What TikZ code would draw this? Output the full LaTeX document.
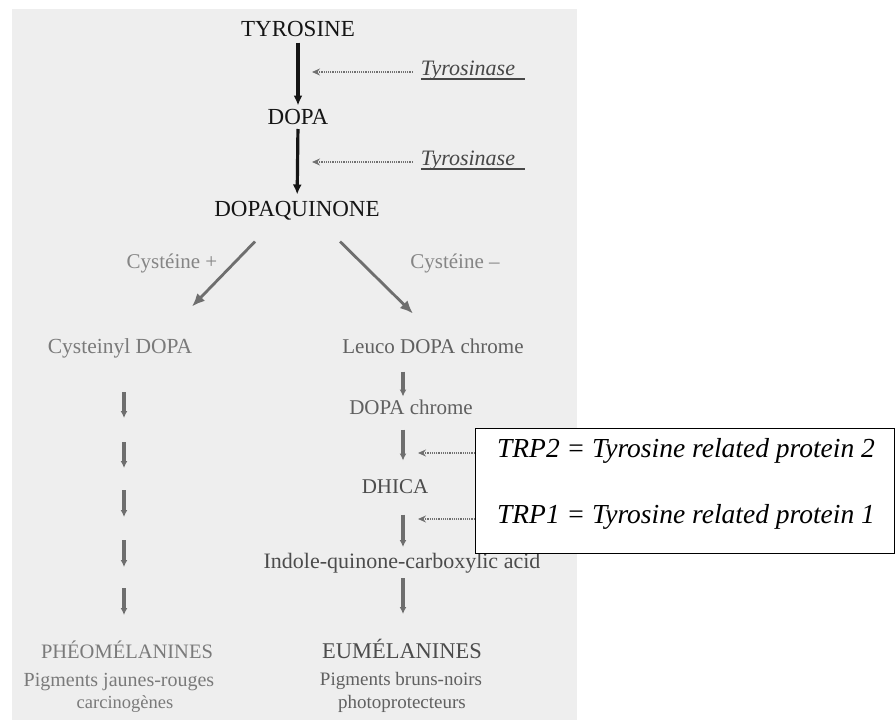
\documentclass[tikz,border=0pt]{standalone}
\usepackage{fontspec}
\setmainfont{Liberation Serif}
\usetikzlibrary{arrows.meta}
\definecolor{bgc}{HTML}{EEEEEE}
\definecolor{maintxt}{HTML}{151515}
\definecolor{enzc}{HTML}{474747}
\definecolor{cysc}{HTML}{858585}
\definecolor{lgrey}{HTML}{7A7A7A}
\definecolor{mgrey}{HTML}{606060}
\definecolor{dgrey}{HTML}{4C4C4C}
\definecolor{arrg}{HTML}{6E6E6E}
\definecolor{dotc}{HTML}{707070}
\newcommand{\fsz}[1]{\fontsize{#1}{#1}\selectfont}
\begin{document}
\begin{tikzpicture}[x=1pt,y=-1pt,
  lbl/.style={inner sep=0pt, text height=0.66em, text depth=0pt, anchor=center},
  big/.style={lbl, font=\fsz{23}, text=maintxt},
  enz/.style={lbl, font=\fsz{22}\itshape, text=enzc},
  cys/.style={lbl, font=\fsz{21}, text=cysc},
  trp/.style={lbl, font=\fsz{27.5}\itshape, text=black},
  barr/.style={line width=3.2pt, draw=maintxt, -{Latex[length=10pt,width=9pt]}},
  garr/.style={line width=2.8pt, draw=arrg, -{Latex[length=13pt,width=11pt]}},
  sarr/.style={line width=3.4pt, draw=arrg, -{Latex[length=7pt,width=7pt]}},
  darr/.style={line width=1.2pt, draw=dotc, dash pattern=on 1.2pt off 1pt, -{Stealth[length=8pt,width=7pt]}},
  ulc/.style={line width=2pt, draw=enzc}]
\useasboundingbox (0,0) rectangle (896,720);
\fill[bgc] (12,9) rectangle (577,720);

% main chain
\node[big] (tyr) at (298,33) {TYROSINE};
\node[big] (dopa) at (298,121) {DOPA};
\node[big] (dq) at (297,213) {DOPAQUINONE};
\draw[barr, shorten <=6pt, shorten >=12pt] (tyr.south) -- (dopa.north);
\draw[barr, shorten <=4.5pt, shorten >=15pt] (dopa.south) -- (dq.north);

% enzymes
\node[enz] (enz1) at (468,72) {Tyrosinase};
\node[enz] (enz2) at (468,162) {Tyrosinase};
\draw[ulc] ([yshift=-3.7pt]enz1.south west) -- ([yshift=-3.7pt,xshift=10pt]enz1.south east);
\draw[ulc] ([yshift=-3.7pt]enz2.south west) -- ([yshift=-3.7pt,xshift=10pt]enz2.south east);
\draw[darr, shorten <=8pt, shorten >=14pt] (enz1.west) -- (enz1.west -| tyr.center);
\draw[darr, shorten <=8pt, shorten >=14pt] (enz2.west) -- (enz2.west -| tyr.center);

% branches
\node[cys] (cysp) at (172,265) {Cystéine +};
\node[cys] (cysm) at (455,265) {Cystéine –};
\node[lbl, font=\fsz{21.5}, text=lgrey] (cdopa) at (120,350) {Cysteinyl DOPA};
\node[lbl, font=\fsz{21}, text=mgrey] (leuco) at (433,350) {Leuco DOPA chrome};
\draw[garr] ([xshift=-42pt,yshift=-25pt]dq.south) -- ([xshift=72pt,yshift=40pt]cdopa.north);
\draw[garr] ([xshift=43pt,yshift=-25pt]dq.south) -- ([xshift=-20pt,yshift=33pt]leuco.north);

% right column
\coordinate (rc) at (403,0);
\node[lbl, font=\fsz{21}, text=mgrey] (dchrome) at (411,411) {DOPA chrome};
\node[lbl, font=\fsz{21}, text=dgrey] (dhica) at (395,490) {DHICA};
\node[lbl, font=\fsz{22}, text=dgrey] (indole) at (402,565) {Indole-quinone-carboxylic acid};
\node[lbl, font=\fsz{22.5}, text=dgrey] (eu) at (402,655) {EUMÉLANINES};
\node[lbl, font=\fsz{19}, text=mgrey] (eu1) at (401,682) {Pigments bruns-noirs};
\node[lbl, font=\fsz{19}, text=mgrey] (eu2) at (402,705) {photoprotecteurs};
\draw[sarr, shorten <=18pt, shorten >=11pt] (leuco.south -| rc) -- (dchrome.north -| rc);
\draw[sarr, shorten <=15pt, shorten >=26pt] (dchrome.south -| rc) -- (dhica.north -| rc);
\draw[sarr, shorten <=21pt, shorten >=14.5pt] (dhica.south -| rc) -- (indole.north -| rc);
\draw[sarr, shorten <=9.5pt, shorten >=37.5pt] (indole.south -| rc) -- (eu.north -| rc);

% left column
\node[lbl, font=\fsz{20.5}, text=lgrey] (pheo) at (127,655) {PHÉOMÉLANINES};
\node[lbl, font=\fsz{20}, text=lgrey] (pheo1) at (119,683) {Pigments jaunes-rouges};
\node[lbl, font=\fsz{18.5}, text=lgrey] (pheo2) at (125,705) {carcinogènes};
\foreach \i/\a/\b in {1/392/418, 2/442/468, 3/490/517, 4/540/567, 5/588/615} {
  \coordinate (ls\i) at (124,\a);
  \coordinate (le\i) at (124,\b);
  \draw[sarr] (ls\i) -- (le\i);
}

% TRP box
\node[draw=black, line width=1.6pt, fill=white, minimum width=419pt, minimum height=125pt, inner sep=0pt] (box) at (685,491) {};
\node[trp] (trp2) at (686,454) {TRP2 = Tyrosine related protein 2};
\node[trp] (trp1) at (686,520) {TRP1 = Tyrosine related protein 1};
\draw[darr, shorten >=15pt] ([yshift=1pt]trp2.west -| box.west) -- ([yshift=1pt]trp2.west -| rc);
\draw[darr, shorten >=15pt] ([yshift=1pt]trp1.west -| box.west) -- ([yshift=1pt]trp1.west -| rc);
\end{tikzpicture}
\end{document}
